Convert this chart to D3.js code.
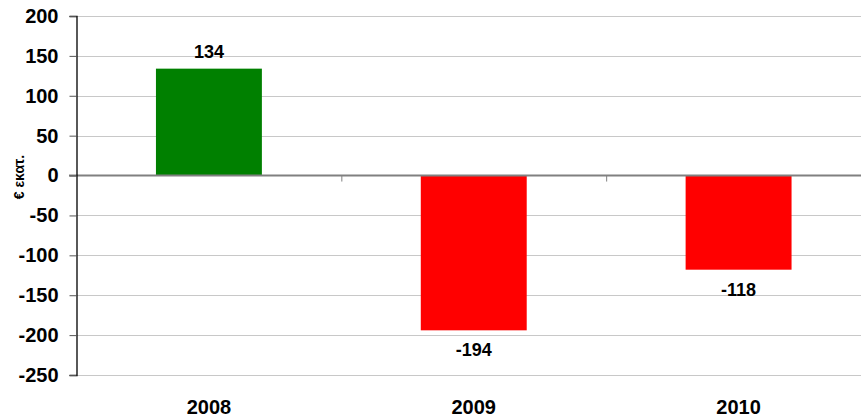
<!DOCTYPE html>
<html>
<head>
<meta charset="utf-8">
<script src="https://cdn.jsdelivr.net/npm/d3@7"></script>
<style>
  html, body { margin: 0; padding: 0; background: #fff; }
  svg { display: block; font-family: "Liberation Sans", Arial, sans-serif; }
</style>
</head>
<body>
<svg id="chart" width="861" height="417"></svg>
<script>
// Annual result, € million
const years = ["2008", "2009", "2010"];
const values = [134, -194, -118];
const yTicks = [200, 150, 100, 50, 0, -50, -100, -150, -200, -250];
const yTitle = "€ εκατ.";

const svg = d3.select("#chart");
const margin = { left: 76.5, right: -10, top: 16, bottom: 42 };
const W = 861, H = 417;

const x = d3.scaleBand()
  .domain(years)
  .range([margin.left, W - margin.right])
  .paddingInner(0.6)
  .paddingOuter(0.3);

const y = d3.scaleLinear()
  .domain([-250, 200])
  .range([375, 16]);

// plain hyphen-minus for negative numbers
const fmt = d => String(d);

// horizontal gridlines
svg.append("g")
  .selectAll("line")
  .data(yTicks.filter(d => d !== 0))
  .join("line")
  .attr("x1", margin.left).attr("x2", W)
  .attr("y1", d => Math.round(y(d)) + 0.5).attr("y2", d => Math.round(y(d)) + 0.5)
  .attr("stroke", "#c8c8c8").attr("stroke-width", 1);

// bars
svg.append("g")
  .selectAll("rect")
  .data(values)
  .join("rect")
  .attr("x", (d, i) => x(years[i]))
  .attr("width", x.bandwidth())
  .attr("y", d => y(Math.max(0, d)))
  .attr("height", d => Math.abs(y(d) - y(0)))
  .attr("fill", d => d >= 0 ? "#008000" : "#ff0000");

// zero baseline with category separators
const y0 = y(0);
svg.append("line")
  .attr("x1", 69).attr("x2", W)
  .attr("y1", y0).attr("y2", y0)
  .attr("stroke", "#808080").attr("stroke-width", 2);

const step = x.step();
svg.append("g")
  .selectAll("line")
  .data(years.slice(1))
  .join("line")
  .attr("x1", d => x(d) - x.paddingInner() * step / 2 + 0.5)
  .attr("x2", d => x(d) - x.paddingInner() * step / 2 + 0.5)
  .attr("y1", y0).attr("y2", y0 + 6)
  .attr("stroke", "#808080").attr("stroke-width", 1);

// y axis
const yAxis = d3.axisLeft(y)
  .tickValues(yTicks)
  .tickSize(7)
  .tickPadding(11)
  .tickFormat(fmt);

const gy = svg.append("g")
  .attr("transform", `translate(${margin.left},0)`)
  .call(yAxis);
gy.select(".domain").attr("stroke", "#000").attr("stroke-width", 1.3);
gy.selectAll(".tick line").attr("stroke", "#555");
gy.selectAll(".tick text")
  .attr("font-family", "Liberation Sans, Arial, sans-serif")
  .attr("font-size", 20).attr("font-weight", "bold").attr("fill", "#000");

// x category labels
svg.append("g")
  .selectAll("text")
  .data(years)
  .join("text")
  .attr("x", d => x(d) + x.bandwidth() / 2)
  .attr("y", 414)
  .attr("text-anchor", "middle")
  .attr("font-size", 20).attr("font-weight", "bold")
  .text(d => d);

// value labels
svg.append("g")
  .selectAll("text")
  .data(values)
  .join("text")
  .attr("x", (d, i) => x(years[i]) + x.bandwidth() / 2)
  .attr("y", d => d >= 0 ? y(d) - 11 : y(d) + 26)
  .attr("text-anchor", "middle")
  .attr("font-size", 18).attr("font-weight", "bold")
  .text(fmt);

// y axis title
svg.append("text")
  .attr("transform", `translate(24,177) rotate(-90)`)
  .attr("text-anchor", "middle")
  .attr("font-size", 14).attr("font-weight", "bold")
  .text(yTitle);
</script>
</body>
</html>
